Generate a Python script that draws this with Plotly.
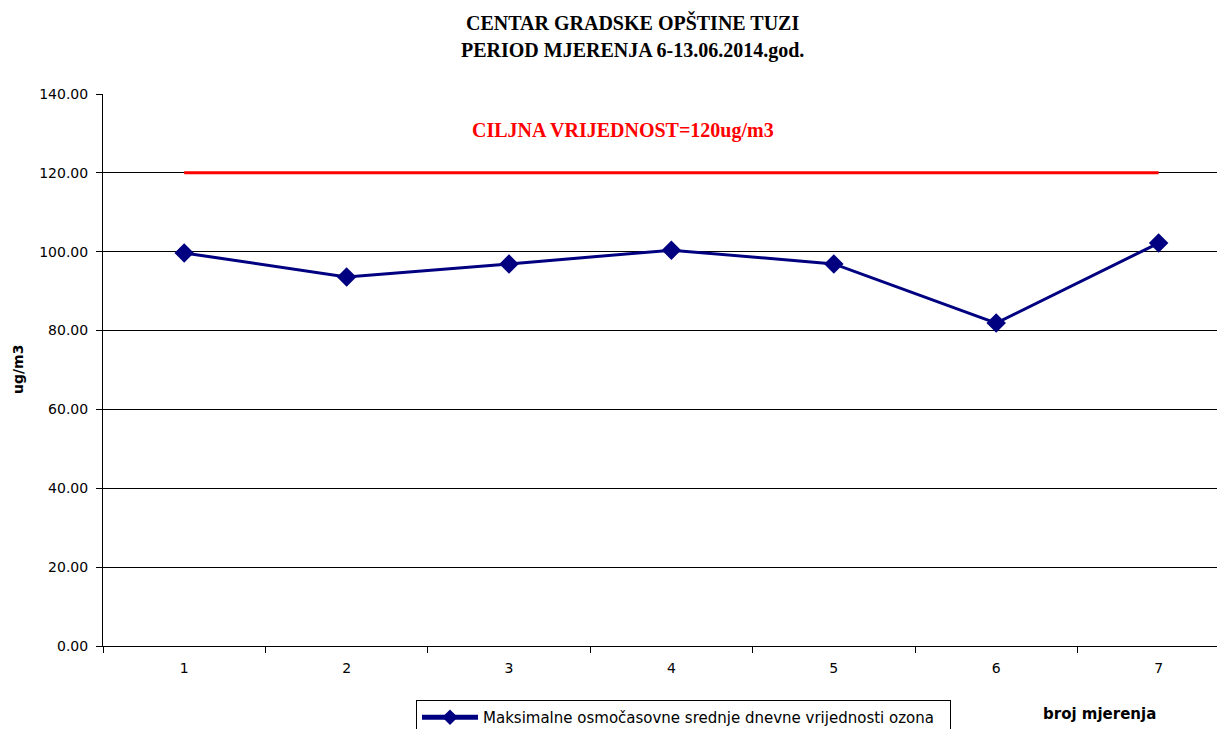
import plotly.graph_objects as go

categories = ["1", "2", "3", "4", "5", "6", "7"]
ozone_max = [99.7, 93.6, 96.9, 100.4, 96.9, 81.9, 102.2]
target_value = [120, 120, 120, 120, 120, 120, 120]
y_ticks = [0, 20, 40, 60, 80, 100, 120, 140]

SERIF = "Liberation Serif"
SANS = "DejaVu Sans"

# the page body adds ~8px offset, so positions below are screen pixels minus that
OFF = 8
W, H = 1225, 729
L, T = 103 - OFF, 94 - OFF
BOTTOM = 646 - OFF
PW, PH = W - L, BOTTOM - T
STEP = 162.4


def px_x(x):
    return (x - OFF - L) / PW


def px_y(y):
    return (BOTTOM - (y - OFF)) / PH


fig = go.Figure()
fig.add_trace(
    go.Scatter(
        x=categories,
        y=target_value,
        mode="lines",
        line=dict(color="#ff0000", width=3),
        showlegend=False,
        hoverinfo="skip",
    )
)
fig.add_trace(
    go.Scatter(
        x=categories,
        y=ozone_max,
        mode="lines+markers",
        name="Maksimalne osmočasovne srednje dnevne vrijednosti ozona",
        line=dict(color="#000080", width=3),
        marker=dict(symbol="diamond", size=15, color="#000080"),
    )
)

fig.update_layout(
    width=W,
    height=H,
    margin=dict(l=L, r=0, t=T, b=H - BOTTOM),
    plot_bgcolor="white",
    paper_bgcolor="white",
    font=dict(family=SANS, size=14, color="black"),
    showlegend=True,
    legend=dict(
        orientation="h",
        xref="container",
        yref="container",
        x=(416 - OFF) / W,
        y=1 - (700 - OFF) / H,
        xanchor="left",
        yanchor="top",
        bordercolor="black",
        borderwidth=1,
        itemwidth=56,
        itemsizing="constant",
        entrywidth=462,
        font=dict(family=SANS, size=15),
    ),
)

fig.update_xaxes(
    type="category",
    range=[-0.5, -0.5 + PW / STEP],
    tickson="boundaries",
    ticks="outside",
    ticklen=6,
    tickcolor="black",
    showline=True,
    linecolor="black",
    linewidth=1,
    showgrid=False,
    automargin=False,
    ticklabelstandoff=9,
    tickfont=dict(family=SANS, size=14),
)
fig.update_yaxes(
    range=[0, 140],
    tickvals=y_ticks,
    tickformat=".2f",
    ticks="outside",
    ticklen=6,
    tickcolor="black",
    showline=True,
    linecolor="black",
    linewidth=1,
    showgrid=True,
    gridcolor="black",
    gridwidth=1,
    zeroline=False,
    automargin=False,
    ticklabelstandoff=5,
    tickfont=dict(family=SANS, size=14),
)

annotations = [
    ("CENTAR GRADSKE OPŠTINE TUZI", 632, 22, SERIF, 20, "black", 0),
    ("PERIOD MJERENJA 6-13.06.2014.god.", 632, 50, SERIF, 20, "black", 0),
    ("CILJNA VRIJEDNOST=120ug/m3", 623, 131, SERIF, 20, "#ff0000", 0),
    ("broj mjerenja", 1099, 714, SANS, 15, "black", 0),
    ("ug/m3", 18, 370, SANS, 14, "black", -90),
]
for text, x, y, family, size, color, angle in annotations:
    fig.add_annotation(
        text=f"<b>{text}</b>",
        xref="paper",
        yref="paper",
        x=px_x(x),
        y=px_y(y),
        xanchor="center",
        yanchor="middle",
        textangle=angle,
        showarrow=False,
        font=dict(family=family, size=size, color=color),
    )

fig.write_html("out.html")
